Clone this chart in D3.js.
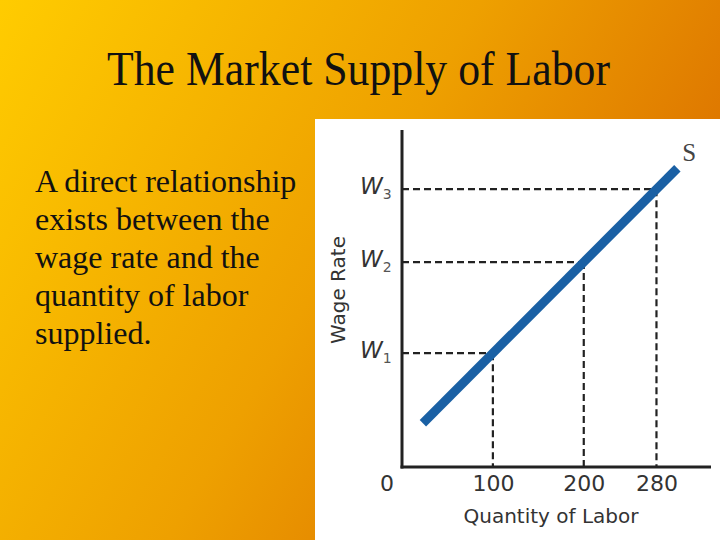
<!DOCTYPE html>
<html lang="en">
<head>
  <meta charset="UTF-8">
  <title>The Market Supply of Labor</title>
  <script src="https://d3js.org/d3.v7.min.js"></script>
  <style>
    body { margin: 0; }
    svg { display: block; }
    .title { font-family: "Liberation Serif", "Times New Roman", serif; fill: #111; }
    .body-text { font-family: "Liberation Serif", "Times New Roman", serif; font-size: 32px; fill: #111; }
    .lbl { font-family: "DejaVu Sans", sans-serif; fill: #333; }
    .tick text { font-family: "DejaVu Sans", sans-serif; font-size: 22px; fill: #333; }
  </style>
</head>
<body>
  <div id="chart"></div>
  <script>
    // data
    const tickQuantities = [100, 200, 280];
    const wages = [125, 225, 305];          // W1, W2, W3 on the wage axis
    const wageLabels = ["1", "2", "3"];     // subscripts for W
    const supplyQ = [23, 303];              // ends of the S curve
    const supplyW = [48, 328];
    const bodyLines = ["A direct relationship", "exists between the", "wage rate and the",
                       "quantity of labor", "supplied."];

    const width = 720, height = 540;
    const svg = d3.select("#chart").append("svg")
      .attr("width", width)
      .attr("height", height);

    // background gradient, yellow top-left to orange bottom-right
    const grad = svg.append("defs").append("linearGradient")
      .attr("id", "bg").attr("gradientUnits", "userSpaceOnUse")
      .attr("x1", 0).attr("y1", 0).attr("x2", 720).attr("y2", 420);
    grad.append("stop").attr("offset", "0%").attr("stop-color", "#ffcc00");
    grad.append("stop").attr("offset", "50%").attr("stop-color", "#eea000");
    grad.append("stop").attr("offset", "100%").attr("stop-color", "#d66200");
    svg.append("rect").attr("width", width).attr("height", height).attr("fill", "url(#bg)");

    // title
    svg.append("text")
      .attr("class", "title")
      .attr("x", 107).attr("y", 85)
      .attr("font-size", 48)
      .attr("textLength", 503)
      .attr("lengthAdjust", "spacingAndGlyphs")
      .text("The Market Supply of Labor");

    // left text
    svg.selectAll(".body-text").data(bodyLines).join("text")
      .attr("class", "body-text")
      .attr("x", 35)
      .attr("y", (d, i) => 192 + i * 38)
      .text(d => d);

    // white panel for the graph
    svg.append("rect")
      .attr("x", 315).attr("y", 119)
      .attr("width", 405).attr("height", 421)
      .attr("fill", "#fff");

    const x = d3.scaleLinear().domain([0, 340]).range([402, 711]);
    const y = d3.scaleLinear().domain([0, 370]).range([467, 130]);

    // dashed guides
    const g = svg.append("g");
    wages.forEach((w, i) => {
      const q = tickQuantities[i];
      g.append("line")
        .attr("x1", x(0)).attr("x2", x(q))
        .attr("y1", y(w)).attr("y2", y(w))
        .attr("stroke", "#222").attr("stroke-width", 2.2)
        .attr("stroke-dasharray", "7,4");
      g.append("line")
        .attr("x1", x(q)).attr("x2", x(q))
        .attr("y1", y(w)).attr("y2", y(0))
        .attr("stroke", "#222").attr("stroke-width", 2.2)
        .attr("stroke-dasharray", "7,4");
    });

    // supply curve
    const line = d3.line().x(d => x(d[0])).y(d => y(d[1]));
    svg.append("path")
      .datum(d3.zip(supplyQ, supplyW))
      .attr("d", line)
      .attr("fill", "none")
      .attr("stroke", "#1a60a4")
      .attr("stroke-width", 9)
      .attr("stroke-linecap", "butt");

    svg.append("text")
      .attr("x", x(supplyQ[1]) + 5).attr("y", y(supplyW[1]) - 7)
      .attr("font-family", "Liberation Serif, serif")
      .attr("font-size", 25)
      .attr("fill", "#444")
      .text("S");

    // axes
    svg.append("line")
      .attr("x1", x(0)).attr("x2", x(0))
      .attr("y1", y(370)).attr("y2", y(0) + 1.5)
      .attr("stroke", "#222").attr("stroke-width", 3);
    svg.append("line")
      .attr("x1", x(0) - 1.5).attr("x2", x(340))
      .attr("y1", y(0)).attr("y2", y(0))
      .attr("stroke", "#222").attr("stroke-width", 3);

    const xAxis = svg.append("g")
      .attr("transform", `translate(0,${y(0)})`)
      .call(d3.axisBottom(x).tickValues(tickQuantities).tickSize(0).tickPadding(24));
    xAxis.select(".domain").remove();
    xAxis.selectAll(".tick text").attr("dy", 0);

    svg.append("text")
      .attr("class", "lbl")
      .attr("x", x(0) - 15).attr("y", y(0) + 24)
      .attr("text-anchor", "middle")
      .attr("font-size", 22)
      .text("0");

    // W labels
    const wl = svg.selectAll(".wlab").data(wages).join("text")
      .attr("class", "lbl wlab")
      .attr("x", 360)
      .attr("y", d => y(d) + 5)
      .attr("font-size", 23)
      .attr("font-style", "italic");
    wl.append("tspan").text("W");
    wl.append("tspan")
      .attr("font-size", 14)
      .attr("font-style", "normal")
      .attr("fill", "#555")
      .attr("dy", 5)
      .text((d, i) => wageLabels[i]);

    // axis titles
    svg.append("text")
      .attr("class", "lbl")
      .attr("transform", "translate(345,290) rotate(-90)")
      .attr("text-anchor", "middle")
      .attr("font-size", 20)
      .text("Wage Rate");

    svg.append("text")
      .attr("class", "lbl")
      .attr("x", 551).attr("y", 523)
      .attr("text-anchor", "middle")
      .attr("font-size", 20)
      .text("Quantity of Labor");
  </script>
</body>
</html>
